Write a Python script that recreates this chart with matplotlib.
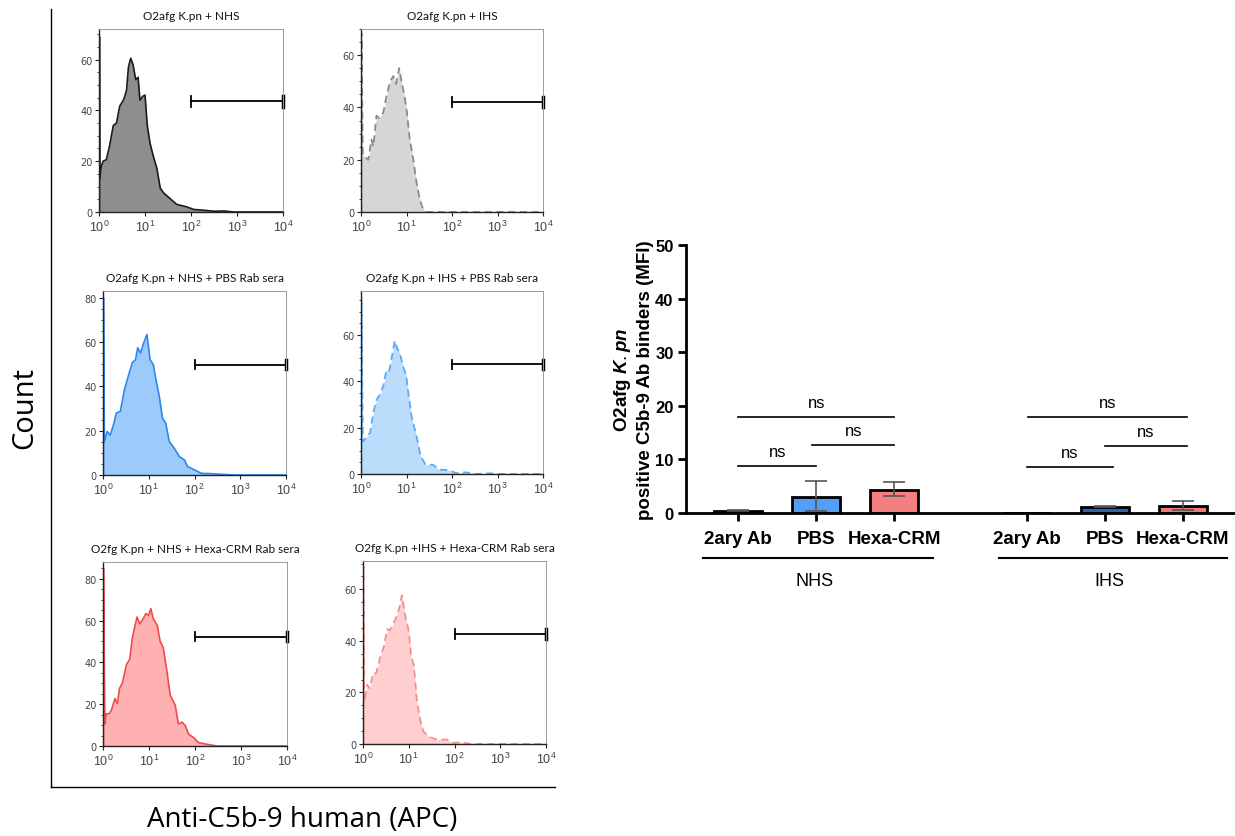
import matplotlib
matplotlib.use("Agg")
import matplotlib.pyplot as plt
from matplotlib.lines import Line2D
from matplotlib.ticker import MultipleLocator, LogLocator, NullFormatter
import numpy as np

plt.rcParams["mathtext.fontset"] = "custom"
plt.rcParams["mathtext.rm"] = "Liberation Sans"
plt.rcParams["mathtext.it"] = "Liberation Sans:italic:bold"

# ---- histogram data (log10 of APC intensity, count) ----
titles = ["O2afg K.pn + NHS", "O2afg K.pn + IHS",
          "O2afg K.pn + NHS + PBS Rab sera", "O2afg K.pn + IHS + PBS Rab sera",
          "O2fg K.pn + NHS + Hexa-CRM Rab sera", "O2fg K.pn +IHS + Hexa-CRM Rab sera"]

nhs_x = [0.01, 0.015, 0.05, 0.09, 0.16, 0.23, 0.31, 0.38, 0.45, 0.53, 0.56, 0.60, 0.64, 0.69,
         0.74, 0.80, 0.85, 0.89, 0.95, 1.0, 1.05, 1.11, 1.18, 1.26, 1.33, 1.40, 1.55, 1.69,
         1.91, 2.06, 2.28, 2.50, 2.72, 2.93, 4.0]
nhs_y = [69, 13, 18, 20, 20.6, 26, 34, 35, 41.6, 44, 45.5, 48, 57, 60.5,
         58, 52, 53, 44, 45.5, 46, 34, 27, 22, 17, 9.5, 7.6, 5.2, 3,
         2, 1, 0.7, 0.3, 0.4, 0, 0]

ihs_x = [0.01, 0.04, 0.09, 0.16, 0.23, 0.27, 0.34, 0.40, 0.49, 0.56, 0.64, 0.71, 0.77, 0.84,
         0.89, 0.96, 1.01, 1.07, 1.15, 1.22, 1.29, 1.36, 1.44, 4.0]
ihs_y = [68.5, 21.6, 21, 20, 27.7, 25, 36.8, 36, 38, 44.4, 50, 52, 49, 55,
         50, 44, 38, 28, 20, 11.4, 5, 1.3, 0, 0]

nhs_pbs_x = [0.01, 0.03, 0.09, 0.16, 0.24, 0.29, 0.38, 0.46, 0.53, 0.64, 0.71, 0.76, 0.82, 0.88,
             0.96, 1.03, 1.10, 1.15, 1.23, 1.30, 1.37, 1.45, 1.56, 1.67, 1.78, 1.85, 2.0,
             2.15, 2.37, 2.59, 2.88, 4.0]
nhs_pbs_y = [80, 15, 19.6, 18, 23.4, 28, 28.7, 37.7, 43, 50.6, 52, 57.4, 55, 59,
             63.4, 52, 49.8, 43.8, 35.5, 25.7, 23.4, 15, 12, 8.3, 6.8, 3.8, 2.3,
             0.75, 0.6, 0.3, 0, 0]

ihs_pbs_x = [0.01, 0.04, 0.12, 0.20, 0.27, 0.34, 0.42, 0.49, 0.56, 0.62, 0.67, 0.74, 0.80, 0.85,
             0.93, 0.99, 1.04, 1.11, 1.22, 1.31, 1.42, 1.58, 1.73, 1.95, 2.08, 2.31, 2.53,
             2.82, 3.04, 4.0]
ihs_pbs_y = [76, 14, 16, 17.8, 26.4, 32, 34.4, 38, 45, 44.5, 49.6, 57.5, 54, 52.5,
             46, 43, 35, 25, 16.3, 7.7, 4, 4, 1.9, 1.6, 0.4, 0.7, 0,
             0.3, 0, 0]

nhs_hexa_x = [0.01, 0.04, 0.07, 0.13, 0.18, 0.26, 0.31, 0.36, 0.42, 0.51, 0.58, 0.64, 0.69, 0.74,
              0.80, 0.88, 0.93, 0.99, 1.04, 1.09, 1.18, 1.24, 1.31, 1.39, 1.46, 1.57, 1.64,
              1.72, 1.79, 1.86, 1.97, 2.08, 2.26, 2.48, 2.70, 4.0]
nhs_hexa_y = [85, 10.5, 15.4, 15.4, 17, 22.7, 20.3, 27.6, 30, 39, 41.4, 52, 56.8, 61.7,
              58.4, 61, 63.3, 62.5, 65.7, 61, 57.6, 50.3, 47, 35.7, 24.4, 19.5, 10.5,
              11.4, 9.7, 5.7, 4, 1.6, 0.8, 0, 0, 0]

ihs_hexa_x = [0.01, 0.03, 0.09, 0.15, 0.22, 0.29, 0.38, 0.45, 0.53, 0.58, 0.64, 0.71, 0.78, 0.85,
              0.93, 1.0, 1.05, 1.11, 1.18, 1.26, 1.33, 1.47, 1.62, 1.84, 1.99, 2.13, 2.35,
              2.57, 4.0]
ihs_hexa_y = [69, 16.4, 23, 21.6, 27.5, 27.5, 34, 37.4, 44.6, 44, 45.9, 48.5, 51.8, 57.7,
              49, 44, 34, 30.8, 16.4, 8.5, 4.6, 2.6, 1.7, 1.7, 0.4, 0.7, 0,
              0, 0]

gate_y = [43.5, 42, 49.8, 47.4, 52.3, 42.6]
y_max = [72, 70, 83, 79, 88, 71]

# ---- bar chart data ----
groups = ["NHS", "IHS"]
conditions = ["2ary Ab", "PBS", "Hexa-CRM", "2ary Ab", "PBS", "Hexa-CRM"]
mfi = [0.3, 3.0, 4.3, 0.0, 1.05, 1.35]
err_lo = [0.0, 2.7, 1.2, 0.0, 0.0, 0.75]
err_hi = [0.25, 3.0, 1.5, 0.0, 0.3, 0.85]
bar_x = [0, 1, 2, 3.7, 4.7, 5.7]
# (start, end, height) for the "ns" comparisons
ns_lines = [(0, 1, 8.8), (0.95, 2, 12.7), (0, 2, 17.9),
            (3.7, 4.8, 8.6), (4.7, 5.75, 12.5), (3.72, 5.75, 17.9)]

W, H = 1235, 837
fig = plt.figure(figsize=(W / 100, H / 100), dpi=100)

def px(l, t, r, b):
    return [l / W, 1 - b / H, (r - l) / W, (b - t) / H]

boxes = [px(99, 30, 283, 213), px(361, 30, 543, 213),
         px(103, 292, 286, 476), px(361, 292, 543, 475),
         px(103, 563, 287, 747), px(363, 562, 546, 745)]
hists = [(nhs_x, nhs_y), (ihs_x, ihs_y), (nhs_pbs_x, nhs_pbs_y),
         (ihs_pbs_x, ihs_pbs_y), (nhs_hexa_x, nhs_hexa_y), (ihs_hexa_x, ihs_hexa_y)]
fills = ["#8e8e8e", "#d6d6d6", "#9ccbfb", "#bcdcfb", "#ffb0b0", "#ffcfcf"]
edges = ["#1a1a1a", "#8a8a8a", "#2b87ee", "#5aaaf5", "#f04a4a", "#f49090"]
styles = ["-", "--", "-", "--", "-", "--"]

for i in range(6):
    ax = fig.add_axes(boxes[i])
    lx, cy = hists[i]
    xs = 10 ** np.array([lx[0]] + lx)
    ys = np.array([0] + cy)
    ax.fill_between(xs, ys, color=fills[i], lw=0)
    ax.plot(xs, ys, color=edges[i], ls=styles[i], lw=1.2 if styles[i] == "-" else 1.3,
            dashes=(4, 2.5) if styles[i] == "--" else (None, None))
    ax.set_xscale("log")
    ax.set_xlim(1, 1e4)
    ax.set_ylim(0, y_max[i])
    ax.set_xticks([1, 10, 100, 1000, 10000])
    ax.set_xticklabels(["$10^{0}$", "$10^{1}$", "$10^{2}$", "$10^{3}$", "$10^{4}$"])
    ax.xaxis.set_minor_locator(LogLocator(base=10, subs=np.arange(2, 10)))
    ax.xaxis.set_minor_formatter(NullFormatter())
    ax.yaxis.set_major_locator(MultipleLocator(20))
    ax.yaxis.set_minor_locator(MultipleLocator(5))
    ax.tick_params(axis="both", which="major", length=3, width=0.8,
                   colors="#222222", labelcolor="#444444", pad=1.5)
    ax.tick_params(axis="y", which="major", labelsize=7)
    ax.tick_params(axis="x", which="major", labelsize=9, pad=2)
    ax.tick_params(axis="both", which="minor", length=1.8, width=0.6, colors="#222222")
    for s in ["top", "right"]:
        ax.spines[s].set_color("#9a9a9a")
        ax.spines[s].set_linewidth(0.7)
    for s in ["left", "bottom"]:
        ax.spines[s].set_color("#222222")
        ax.spines[s].set_linewidth(1.0)
    ax.set_title(titles[i], fontsize=8.5, family="Lato", pad=7, color="#111111")
    # gate marker
    ax.plot([100, 1e4], [gate_y[i], gate_y[i]], color="black", lw=1.3, clip_on=False)
    ax.plot([100, 100], [gate_y[i] - 2, gate_y[i] + 2], color="black", lw=1.3, clip_on=False)
    ax.plot([1e4, 1e4], [gate_y[i] - 2, gate_y[i] + 2], color="black", lw=2.5, clip_on=False)

# frame around the histogram grid
fig.add_artist(Line2D([51 / W, 51 / W], [1 - 10 / H, 1 - 788 / H], color="black", lw=1))
fig.add_artist(Line2D([51 / W, 555 / W], [1 - 788 / H, 1 - 788 / H], color="black", lw=1))
fig.text(25 / W, 1 - 408 / H, "Count", rotation=90, ha="center", va="center",
         fontsize=21, family="Open Sans")
fig.text(302 / W, 1 - 820 / H, "Anti-C5b-9 human (APC)", ha="center", va="center",
         fontsize=20, family="Open Sans")

# ---- bar chart ----
bx = fig.add_axes(px(686, 246, 1235, 514))
bar_colors = ["#7a9fd0", "#559ef5", "#f47f7f", "#7a9fd0", "#2f62b0", "#f07878"]
bx.bar(bar_x, mfi, width=0.62, color=bar_colors, edgecolor="black", linewidth=2, zorder=2)
err_y = [v if v > 0 else np.nan for v in mfi]
bx.errorbar(bar_x, err_y, yerr=[err_lo, err_hi], fmt="none", ecolor="#555555",
            elinewidth=1.2, capsize=8, capthick=1.2, zorder=3)
bx.set_xlim(-0.67, 6.37)
bx.set_ylim(0, 50)
bx.set_yticks([0, 10, 20, 30, 40, 50])
bx.set_xticks(bar_x)
bx.set_xticklabels(conditions)
for s in ["top", "right"]:
    bx.spines[s].set_visible(False)
for s in ["left", "bottom"]:
    bx.spines[s].set_linewidth(2)
bx.tick_params(axis="y", length=6, width=2, pad=3)
bx.tick_params(axis="x", length=6, width=2, pad=6)
for lab in bx.get_yticklabels():
    lab.set_fontsize(12)
    lab.set_fontweight("bold")
    lab.set_family("Liberation Sans")
for lab in bx.get_xticklabels():
    lab.set_fontsize(13.5)
    lab.set_fontweight("bold")
    lab.set_family("Liberation Sans")
bx.set_ylabel("O2afg $\\it{K.pn}$\npositive C5b-9 Ab binders (MFI)", fontsize=13.5,
              fontweight="bold", family="Liberation Sans", labelpad=1, linespacing=1.25)

for x0, x1, h in ns_lines:
    bx.plot([x0, x1], [h, h], color="black", lw=1.2)
    bx.text((x0 + x1) / 2, h + 2.7, "ns", ha="center", va="center", fontsize=12,
            family="Liberation Sans")

# group labels below the axis
for g, (x0, x1) in zip(groups, [(-0.45, 2.5), (3.35, 6.27)]):
    bx.plot([x0, x1], [-8.4, -8.4], color="black", lw=1.5, clip_on=False)
    bx.text((x0 + x1) / 2 - 0.05, -12.6, g, ha="center", va="center", fontsize=13,
            family="Liberation Sans", clip_on=False)

fig.savefig("out.png", dpi=100)
